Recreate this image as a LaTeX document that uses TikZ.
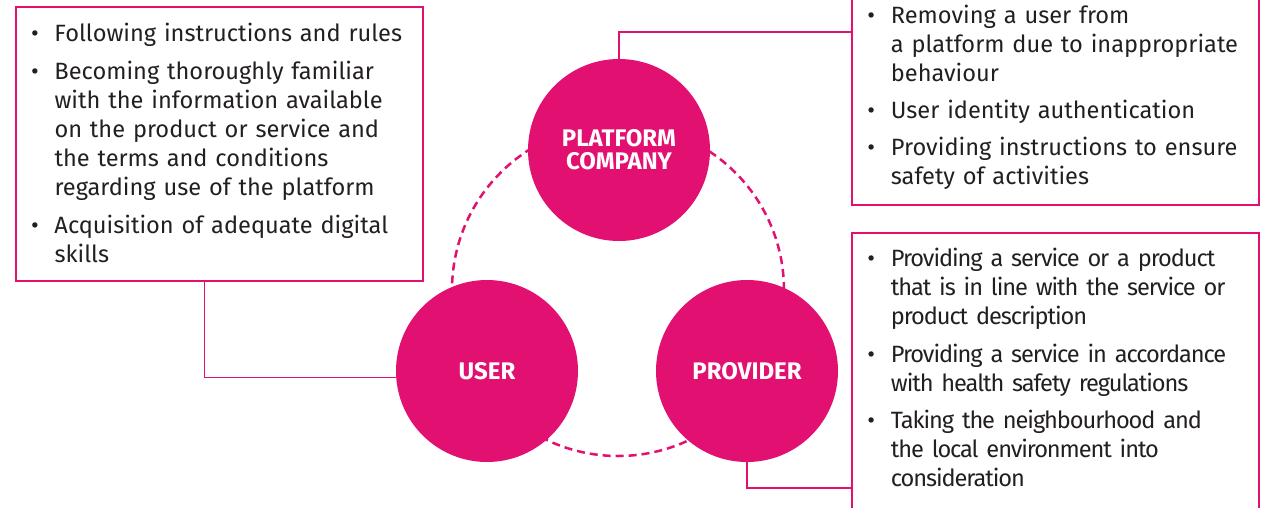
\documentclass[tikz,border=0pt]{standalone}
\usepackage{fontspec}
\setmainfont{Fira Sans}
\definecolor{mag}{RGB}{226,16,112}
\definecolor{txt}{RGB}{35,31,32}
\newcommand\nlbreak{\hfil\break}
\newcommand\bitem[1]{\par\noindent\hangindent=20pt\hangafter=1{\let\\\nlbreak\makebox[20pt][l]{\hspace{-3.5pt}•}#1\par}}
\tikzset{
  bubble/.style={circle, fill=mag, inner sep=0pt, minimum size=182pt, text=white,
    font=\fontsize{24}{23}\selectfont\bfseries, align=center},
  infobox/.style={draw=mag, line width=1.3pt, rectangle, inner sep=0pt},
  infotext/.style={inner sep=0pt, anchor=north west, text width=420pt, text=txt,
    font=\fontsize{23.6}{29}\selectfont},
  link/.style={draw=mag, line width=1.3pt},
  ring/.style={draw=mag, line width=2.5pt, dash pattern=on 8pt off 5pt}
}
\begin{document}
\begin{tikzpicture}[x=1pt,y=-1pt]
\useasboundingbox (0,0) rectangle (1278,507);
\clip (0,0) rectangle (1278,507);
% dashed ring
\draw[ring] (618,290) circle[radius=166pt];
% circles
\node[bubble] (plat) at (619,150) {\raisebox{-2pt}{PLATFORM}\\\raisebox{-2pt}{COMPANY}};
\node[bubble] (user) at (487,371) {\raisebox{-2pt}{USER}};
\node[bubble] (prov) at (747,371) {\raisebox{-2pt}{PROVIDER}};
% boxes
\node[infobox, minimum width=407pt, minimum height=274pt] (box1) at (219.5,144) {};
\node[infobox, minimum width=407pt, minimum height=216pt] (box2) at (1055.5,97) {};
\node[infobox, minimum width=407pt, minimum height=279pt] (box3) at (1055.5,372.5) {};
% texts
\node[infotext] (t1) at (34.3,3) {\raggedright\setlength{\parskip}{9pt}%
\bitem{Following instructions and rules}
\bitem{Becoming thoroughly familiar\\with the information available\\on the product or service and\\the terms and conditions\\regarding use of the platform}
\bitem{Acquisition of adequate digital\\skills}};
\node[infotext] (t2) at (870.7,-14) {\raggedright\setlength{\parskip}{8pt}%
\bitem{Removing a user from\\a platform due to inappropriate\\behaviour}
\bitem{User identity authentication}
\bitem{Providing instructions to ensure\\safety of activities}};
\node[infotext] (t3) at (870.7,229) {\raggedright\addfontfeature{LetterSpace=-4.6}\setlength{\parskip}{8.5pt}%
\bitem{Providing a service or a product\\that is in line with the service or\\product description}
\bitem{Providing a service in accordance\\with health safety regulations}
\bitem{Taking the neighbourhood and\\the local environment into\\consideration}};
% connectors
\draw[link] ([xshift=189pt]box1.south west) |- (user.184);
\draw[link] (plat.north) |- (box2.west |- 0,32);
\draw[link] (prov.south) |- (box3.west |- 0,488);
\end{tikzpicture}
\end{document}
